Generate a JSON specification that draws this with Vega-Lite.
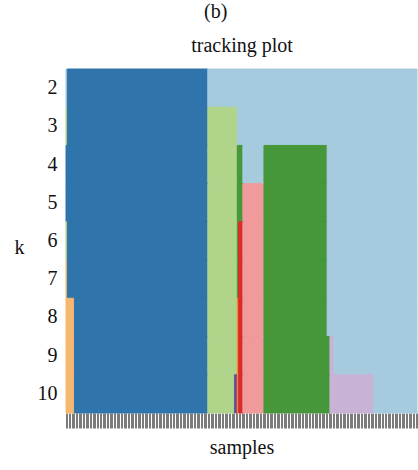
{
  "$schema": "https://vega.github.io/schema/vega-lite/v6.json",
  "width": 351,
  "height": 344,
  "autosize": {"type": "none"},
  "padding": {"left": 66, "top": 69, "right": 1, "bottom": 57},
  "background": "white",
  "config": {"view": {"stroke": null}, "font": "Liberation Serif"},
  "title": {"text": "(b)", "anchor": "middle", "frame": "bounds", "fontSize": 20, "fontWeight": "normal", "font": "Liberation Serif", "color": "#111", "offset": 13},
  "data": {"values": [
    {"k": 2, "start": 0, "end": 1, "cluster": "1"},
    {"k": 2, "start": 1, "end": 101, "cluster": "2"},
    {"k": 2, "start": 101, "end": 250, "cluster": "1"},
    {"k": 3, "start": 0, "end": 1, "cluster": "3"},
    {"k": 3, "start": 1, "end": 101, "cluster": "2"},
    {"k": 3, "start": 101, "end": 122, "cluster": "3"},
    {"k": 3, "start": 122, "end": 250, "cluster": "1"},
    {"k": 4, "start": 0, "end": 101, "cluster": "2"},
    {"k": 4, "start": 101, "end": 122, "cluster": "3"},
    {"k": 4, "start": 122, "end": 126, "cluster": "4"},
    {"k": 4, "start": 126, "end": 141, "cluster": "1"},
    {"k": 4, "start": 141, "end": 186, "cluster": "4"},
    {"k": 4, "start": 186, "end": 250, "cluster": "1"},
    {"k": 5, "start": 0, "end": 101, "cluster": "2"},
    {"k": 5, "start": 101, "end": 122, "cluster": "3"},
    {"k": 5, "start": 122, "end": 126, "cluster": "4"},
    {"k": 5, "start": 126, "end": 141, "cluster": "5"},
    {"k": 5, "start": 141, "end": 186, "cluster": "4"},
    {"k": 5, "start": 186, "end": 250, "cluster": "1"},
    {"k": 6, "start": 0, "end": 1, "cluster": "3"},
    {"k": 6, "start": 1, "end": 101, "cluster": "2"},
    {"k": 6, "start": 101, "end": 122, "cluster": "3"},
    {"k": 6, "start": 122, "end": 123, "cluster": "4"},
    {"k": 6, "start": 123, "end": 126, "cluster": "6"},
    {"k": 6, "start": 126, "end": 141, "cluster": "5"},
    {"k": 6, "start": 141, "end": 186, "cluster": "4"},
    {"k": 6, "start": 186, "end": 250, "cluster": "1"},
    {"k": 7, "start": 0, "end": 1, "cluster": "7"},
    {"k": 7, "start": 1, "end": 101, "cluster": "2"},
    {"k": 7, "start": 101, "end": 122, "cluster": "3"},
    {"k": 7, "start": 122, "end": 123, "cluster": "4"},
    {"k": 7, "start": 123, "end": 126, "cluster": "6"},
    {"k": 7, "start": 126, "end": 141, "cluster": "5"},
    {"k": 7, "start": 141, "end": 186, "cluster": "4"},
    {"k": 7, "start": 186, "end": 250, "cluster": "1"},
    {"k": 8, "start": 0, "end": 6, "cluster": "7"},
    {"k": 8, "start": 6, "end": 101, "cluster": "2"},
    {"k": 8, "start": 101, "end": 122, "cluster": "3"},
    {"k": 8, "start": 122, "end": 123, "cluster": "8"},
    {"k": 8, "start": 123, "end": 126, "cluster": "6"},
    {"k": 8, "start": 126, "end": 141, "cluster": "5"},
    {"k": 8, "start": 141, "end": 186, "cluster": "4"},
    {"k": 8, "start": 186, "end": 250, "cluster": "1"},
    {"k": 9, "start": 0, "end": 6, "cluster": "7"},
    {"k": 9, "start": 6, "end": 101, "cluster": "2"},
    {"k": 9, "start": 101, "end": 122, "cluster": "3"},
    {"k": 9, "start": 122, "end": 123, "cluster": "8"},
    {"k": 9, "start": 123, "end": 126, "cluster": "6"},
    {"k": 9, "start": 126, "end": 141, "cluster": "5"},
    {"k": 9, "start": 141, "end": 188, "cluster": "4"},
    {"k": 9, "start": 188, "end": 191, "cluster": "9"},
    {"k": 9, "start": 191, "end": 250, "cluster": "1"},
    {"k": 10, "start": 0, "end": 6, "cluster": "7"},
    {"k": 10, "start": 6, "end": 101, "cluster": "2"},
    {"k": 10, "start": 101, "end": 120, "cluster": "3"},
    {"k": 10, "start": 120, "end": 122, "cluster": "10"},
    {"k": 10, "start": 122, "end": 123, "cluster": "8"},
    {"k": 10, "start": 123, "end": 126, "cluster": "6"},
    {"k": 10, "start": 126, "end": 141, "cluster": "5"},
    {"k": 10, "start": 141, "end": 188, "cluster": "4"},
    {"k": 10, "start": 188, "end": 219, "cluster": "9"},
    {"k": 10, "start": 219, "end": 250, "cluster": "1"}
  ]},
  "encoding": {
    "y": {"field": "k", "type": "ordinal", "sort": [2,3,4,5,6,7,8,9,10],
          "scale": {"paddingInner": 0, "paddingOuter": 0},
          "axis": {"domain": false, "ticks": false, "labelFontSize": 20, "labelFont": "Liberation Serif", "labelColor": "#111", "labelPadding": 9, "labelBaseline": "middle",
                   "title": "k", "titleAngle": 0, "titleFontSize": 20, "titleFont": "Liberation Serif", "titleFontWeight": "normal", "titleColor": "#111", "titleX": -47, "titleY": 184, "titleAlign": "center", "titleBaseline": "alphabetic"}},
    "color": {"field": "cluster", "type": "nominal", "legend": null,
              "scale": {"domain": ["1","2","3","4","5","6","7","8","9","10"],
                        "range": ["#a6cbdf", "#2f74ab", "#b1d48b", "#46963a", "#f19a9b", "#dc2a2a", "#f6b871", "#f08a2a", "#c8b3d6", "#6b4c9a"]}},
    "stroke": {"field": "cluster", "type": "nominal", "legend": null,
              "scale": {"domain": ["1","2","3","4","5","6","7","8","9","10"],
                        "range": ["#a6cbdf", "#2f74ab", "#b1d48b", "#46963a", "#f19a9b", "#dc2a2a", "#f6b871", "#f08a2a", "#c8b3d6", "#6b4c9a"]}}
  },
  "layer": [
    {
      "mark": {"type": "rect", "strokeWidth": 1},
      "encoding": {
        "x": {"field": "start", "type": "quantitative", "scale": {"domain": [0, 250], "nice": false},
              "axis": {"orient": "bottom", "domain": false, "labels": false, "grid": false, "tickCount": 250, "tickSize": 15, "tickWidth": 0.6, "tickColor": "#222",
                       "title": "samples", "titleFontSize": 20, "titleFont": "Liberation Serif", "titleFontWeight": "normal", "titleColor": "#111", "titlePadding": 9}},
        "x2": {"field": "end"}
      }
    },
    {
      "mark": {"type": "rect", "opacity": 0},
      "encoding": {
        "x": {"field": "start", "type": "quantitative", "scale": {"domain": [0, 250], "nice": false},
              "axis": {"orient": "top", "domain": false, "labels": false, "ticks": false, "grid": false,
                       "title": "tracking plot", "titleFontSize": 20, "titleFont": "Liberation Serif", "titleFontWeight": "normal", "titleColor": "#111", "titlePadding": 14}},
        "x2": {"field": "end"}
      }
    }
  ],
  "resolve": {"axis": {"x": "independent"}}
}
